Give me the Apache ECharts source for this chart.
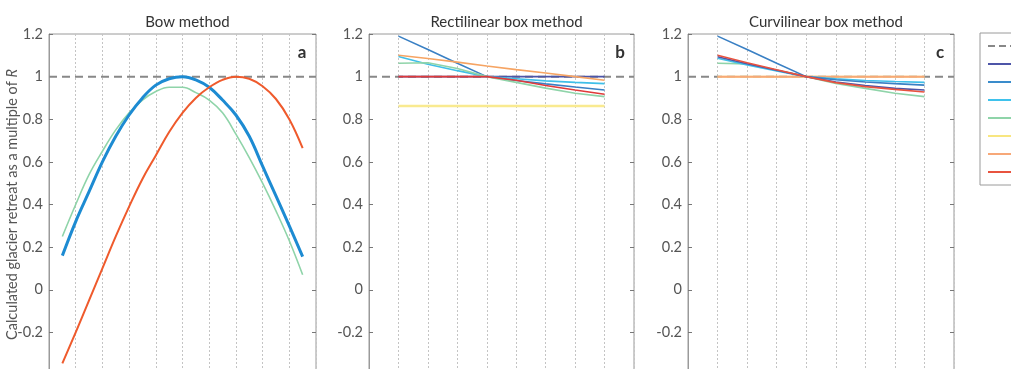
<!DOCTYPE html>
<html>
<head>
<meta charset="utf-8">
<script src="https://cdn.jsdelivr.net/npm/echarts@6/dist/echarts.min.js"></script>
<style>
  html, body { margin: 0; padding: 0; background: #fff; }
  #main { width: 1011px; height: 369px; }
</style>
</head>
<body>
<div id="main"></div>
<script>
// panel titles and letters
var panelTitles = ['Bow method', 'Rectilinear box method', 'Curvilinear box method'];
var panelLetters = ['a', 'b', 'c'];
var yTicks = [-0.4, 1.2, 0.2];   // min, max, step
var refValue = 1;

// x positions
var bowX = [0.5, 1, 1.5, 2, 2.5, 3, 3.5, 4, 4.5, 5, 5.5, 6, 6.5, 7, 7.5, 8, 8.5, 9, 9.5];
var boxX = [1, 2, 3, 4, 5, 6, 7, 8];

// a - bow method
var bowBlue  = [0.16, 0.32, 0.46, 0.60, 0.72, 0.82, 0.90, 0.96, 0.99, 1.0, 0.985, 0.95, 0.89, 0.82, 0.72, 0.58, 0.44, 0.30, 0.155];
var bowGreen = [0.25, 0.40, 0.54, 0.65, 0.75, 0.83, 0.89, 0.93, 0.95, 0.95, 0.925, 0.89, 0.83, 0.73, 0.62, 0.50, 0.37, 0.23, 0.07];
var bowRed   = [-0.345, -0.2, -0.05, 0.10, 0.25, 0.39, 0.52, 0.63, 0.74, 0.83, 0.90, 0.95, 0.985, 1.0, 0.99, 0.955, 0.895, 0.80, 0.664];

// b - rectilinear box method
var recDarkBlue = [1, 1, 1, 1, 1, 1, 1, 1];
var recBlue     = [1.19, 1.127, 1.063, 1.0, 0.982, 0.966, 0.951, 0.9375];
var recCyan     = [1.094, 1.058, 1.028, 1.0, 0.99, 0.98, 0.973, 0.967];
var recGreen    = [1.063, 1.065, 1.038, 1.0, 0.973, 0.946, 0.922, 0.906];
var recYellow   = [0.8625, 0.8625, 0.8625, 0.8625, 0.8625, 0.8625, 0.8625, 0.8625];
var recOrange   = [1.10, 1.085, 1.068, 1.05, 1.033, 1.017, 1.0, 0.983];
var recRed      = [1, 1, 1, 1, 0.983, 0.958, 0.937, 0.917];

// c - curvilinear box method
var curDarkBlue = [1.093, 1.06, 1.03, 1.0, 0.975, 0.958, 0.945, 0.9375];
var curBlue     = [1.19, 1.127, 1.063, 1.0, 0.985, 0.975, 0.967, 0.96];
var curCyan     = [1.086, 1.055, 1.027, 1.0, 0.99, 0.982, 0.977, 0.973];
var curGreen    = [1.063, 1.060, 1.03, 1.0, 0.968, 0.945, 0.922, 0.906];
var curYellow   = [1, 1, 1, 1, 1, 1, 1, 1];
var curOrange   = [1, 1, 1, 1, 1, 1, 1, 1];
var curRed      = [1.10, 1.065, 1.032, 1.0, 0.972, 0.953, 0.94, 0.928];

// legend
var legendNames  = ['R', 'Terminus 1', 'Terminus 2', 'Terminus 3', 'Terminus 4', 'Terminus 5', 'Terminus 6', 'Terminus 7'];
var legendColors = ['#888888', '#4d55a8', '#3a8ccb', '#3fc2ec', '#8fd4a9', '#f8e680', '#f7a878', '#e8533f'];

var xMax = [10, 9, 9];
var gridLeft = [49, 369, 688];
var gridWidth = [267, 265, 266];

// thin line icons for the legend (the corner points keep the 32x14 box)
var solidIcon  = 'path://M0,0L0,0M0,6L32,6L32,8L0,8ZM32,14L32,14';
var dashedIcon = 'path://M0,0L0,0M0,6L7,6L7,8L0,8ZM11,6L18,6L18,8L11,8ZM22,6L29,6L29,8L22,8ZM32,14L32,14';

function pts(xs, ys) {
  return xs.map(function (x, i) { return [x, ys[i]]; });
}

function line(name, gi, data, color, width, smooth) {
  return {
    name: name, type: 'line', xAxisIndex: gi, yAxisIndex: gi * 2,
    data: data, symbol: 'none', silent: true, animation: false,
    smooth: smooth || false,
    lineStyle: { color: color, width: width || 1.5 }
  };
}

function refLine(gi) {
  return {
    name: legendNames[0], type: 'line', xAxisIndex: gi, yAxisIndex: gi * 2,
    data: [[0, refValue], [xMax[gi], refValue]], symbol: 'none', silent: true, animation: false,
    lineStyle: { color: '#888', width: 2, type: [8, 5] }, z: 1
  };
}

var chart = echarts.init(document.getElementById('main'));

var grids = [], xAxes = [], yAxes = [], titles = [], graphics = [];
for (var i = 0; i < 3; i++) {
  grids.push({
    left: gridLeft[i], width: gridWidth[i], top: 34, height: 341,
    outerBoundsMode: 'none',
    show: true, borderColor: '#9a9a9a', borderWidth: 1, backgroundColor: '#fff'
  });
  xAxes.push({
    type: 'value', gridIndex: i, min: 0, max: xMax[i], interval: 1,
    axisLabel: { show: false }, axisTick: { show: false },
    axisLine: { show: false },
    splitLine: { show: true, lineStyle: { color: '#c4c4c4', type: [2, 2], width: 1 } }
  });
  yAxes.push({
    type: 'value', gridIndex: i, min: yTicks[0], max: yTicks[1], interval: yTicks[2],
    axisLine: { show: true, lineStyle: { color: '#9a9a9a' } },
    axisTick: { show: true, inside: true, length: 4, lineStyle: { color: '#777' } },
    axisLabel: { color: '#555', fontSize: 14.5, fontFamily: 'Lato', margin: 6 },
    splitLine: { show: false },
    name: i === 0 ? 'Calculated glacier retreat as a multiple of {i|R}' : '',
    nameLocation: 'middle', nameGap: 29, nameMoveOverlap: false,
    nameTextStyle: {
      color: '#555', fontSize: 14.5, fontFamily: 'Lato',
      rich: { i: { fontStyle: 'italic', fontSize: 14.5, fontFamily: 'Lato', color: '#555' } }
    }
  });
  yAxes.push({
    type: 'value', gridIndex: i, position: 'right', min: yTicks[0], max: yTicks[1], interval: yTicks[2],
    axisLine: { show: false }, axisLabel: { show: false },
    axisTick: { show: true, inside: true, length: 4, lineStyle: { color: '#777' } },
    splitLine: { show: false }
  });
  titles.push({
    text: panelTitles[i], left: gridLeft[i] + gridWidth[i] / 2, top: 10, textAlign: 'center',
    textStyle: { color: '#333', fontSize: 15, fontWeight: 'normal', fontFamily: 'Lato' }
  });
  graphics.push({
    type: 'text', x: gridLeft[i] + gridWidth[i] - 14, y: 53,
    style: { text: panelLetters[i], fill: '#333', font: 'bold 17px Lato', textAlign: 'center', textVerticalAlign: 'middle' }
  });
}

var series = [
  refLine(0),
  line(legendNames[4], 0, pts(bowX, bowGreen), '#8fd4a9', 1.6, 0.4),
  line(legendNames[2], 0, pts(bowX, bowBlue), '#1d8bd2', 3, 0.4),
  line(legendNames[7], 0, pts(bowX, bowRed), '#ef5a2c', 2, 0.4),

  refLine(1),
  line(legendNames[1], 1, pts(boxX, recDarkBlue), '#4d55a8', 1.6),
  line(legendNames[2], 1, pts(boxX, recBlue), '#3a80c4', 1.6),
  line(legendNames[3], 1, pts(boxX, recCyan), '#3fbfe8', 1.6),
  line(legendNames[4], 1, pts(boxX, recGreen), '#8fd4a9', 1.6),
  line(legendNames[5], 1, pts(boxX, recYellow), '#f9ea90', 2.5),
  line(legendNames[6], 1, pts(boxX, recOrange), '#f6a463', 1.6),
  line(legendNames[7], 1, pts(boxX, recRed), '#e03a3a', 1.6),

  refLine(2),
  line(legendNames[5], 2, pts(boxX, curYellow), '#f9ea90', 2),
  line(legendNames[6], 2, pts(boxX, curOrange), '#f7a878', 2),
  line(legendNames[4], 2, pts(boxX, curGreen), '#8fd4a9', 1.6),
  line(legendNames[3], 2, pts(boxX, curCyan), '#3fbfe8', 1.6),
  line(legendNames[2], 2, pts(boxX, curBlue), '#3a80c4', 1.6),
  line(legendNames[1], 2, pts(boxX, curDarkBlue), '#4d55a8', 1.6),
  line(legendNames[7], 2, pts(boxX, curRed), '#e8533f', 1.6)
];

var legendData = legendNames.map(function (n, k) {
  return {
    name: n,
    icon: k === 0 ? dashedIcon : solidIcon,
    itemStyle: { color: legendColors[k], borderWidth: 0 }
  };
});

option = {
  backgroundColor: '#fff',
  animation: false,
  title: titles,
  grid: grids,
  xAxis: xAxes,
  yAxis: yAxes,
  legend: {
    orient: 'vertical', left: 980, top: 33,
    padding: [6, 8, 6, 8], itemGap: 4, itemWidth: 32, itemHeight: 14,
    borderColor: '#9a9a9a', borderWidth: 1,
    selectedMode: false,
    itemStyle: { borderWidth: 0 },
    textStyle: { color: '#333', fontSize: 12, fontFamily: 'Lato' },
    data: legendData
  },
  graphic: graphics,
  series: series
};
chart.setOption(option);
</script>
</body>
</html>
